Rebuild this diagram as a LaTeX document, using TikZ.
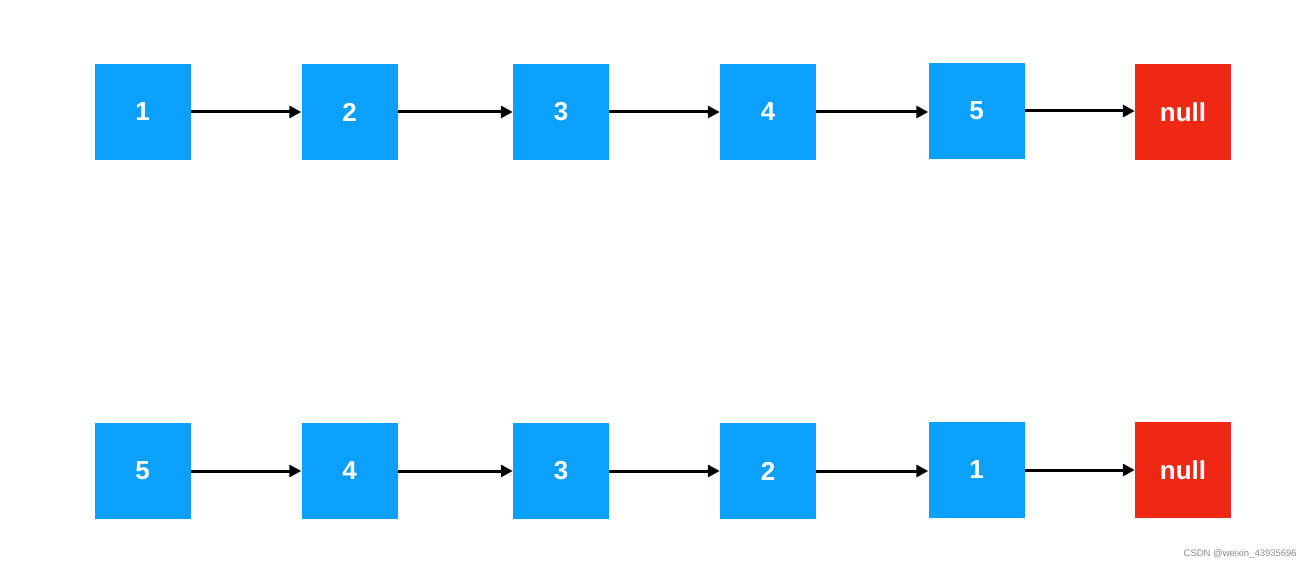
\documentclass[tikz,border=0pt]{standalone}
\usepackage{fontspec}
\setmainfont{Liberation Sans}
\usetikzlibrary{arrows.meta}
\definecolor{nodeblue}{RGB}{10,160,252}
\definecolor{nullred}{RGB}{238,40,18}
\definecolor{marktext}{RGB}{140,140,140}
\tikzset{
  listbox/.style={draw=none, fill=nodeblue, minimum width=96pt, minimum height=96pt, inner sep=0pt, text=white, font=\bfseries\fontsize{26}{26}\selectfont},
  nullbox/.style={listbox, fill=nullred},
  link/.style={draw=black, line width=3pt, -{Triangle[length=12pt,width=12pt]}}
}
\begin{document}
\begin{tikzpicture}[x=1pt,y=-1pt]
\useasboundingbox (0,0) rectangle (1312,569);
% top row
\node[listbox] (a1) at (142.5,112) {1};
\node[listbox] (a2) at (349.5,112) {2};
\node[listbox] (a3) at (561,112) {3};
\node[listbox] (a4) at (768,112) {4};
\node[listbox] (a5) at (976.5,111) {5};
\node[nullbox] (an) at (1183,112) {null};
\draw[link] (a1.east) -- (a1.east -| a2.west);
\draw[link] (a2.east) -- (a2.east -| a3.west);
\draw[link] (a3.east) -- (a3.east -| a4.west);
\draw[link] (a4.east) -- (a4.east -| a5.west);
\draw[link] (a5.east) -- (a5.east -| an.west);
% bottom row
\node[listbox] (b1) at (142.5,471) {5};
\node[listbox] (b2) at (349.5,471) {4};
\node[listbox] (b3) at (561,471) {3};
\node[listbox] (b4) at (768,471) {2};
\node[listbox] (b5) at (976.5,470) {1};
\node[nullbox] (bn) at (1183,470) {null};
\draw[link] (b1.east) -- (b1.east -| b2.west);
\draw[link] (b2.east) -- (b2.east -| b3.west);
\draw[link] (b3.east) -- (b3.east -| b4.west);
\draw[link] (b4.east) -- (b4.east -| b5.west);
\draw[link] (b5.east) -- (b5.east -| bn.west);
\node[text=marktext, font=\fontsize{9.5}{10}\selectfont, anchor=east, inner sep=0pt] (mark) at (1297,554) {CSDN @weixin\_43935696};
\end{tikzpicture}
\end{document}
